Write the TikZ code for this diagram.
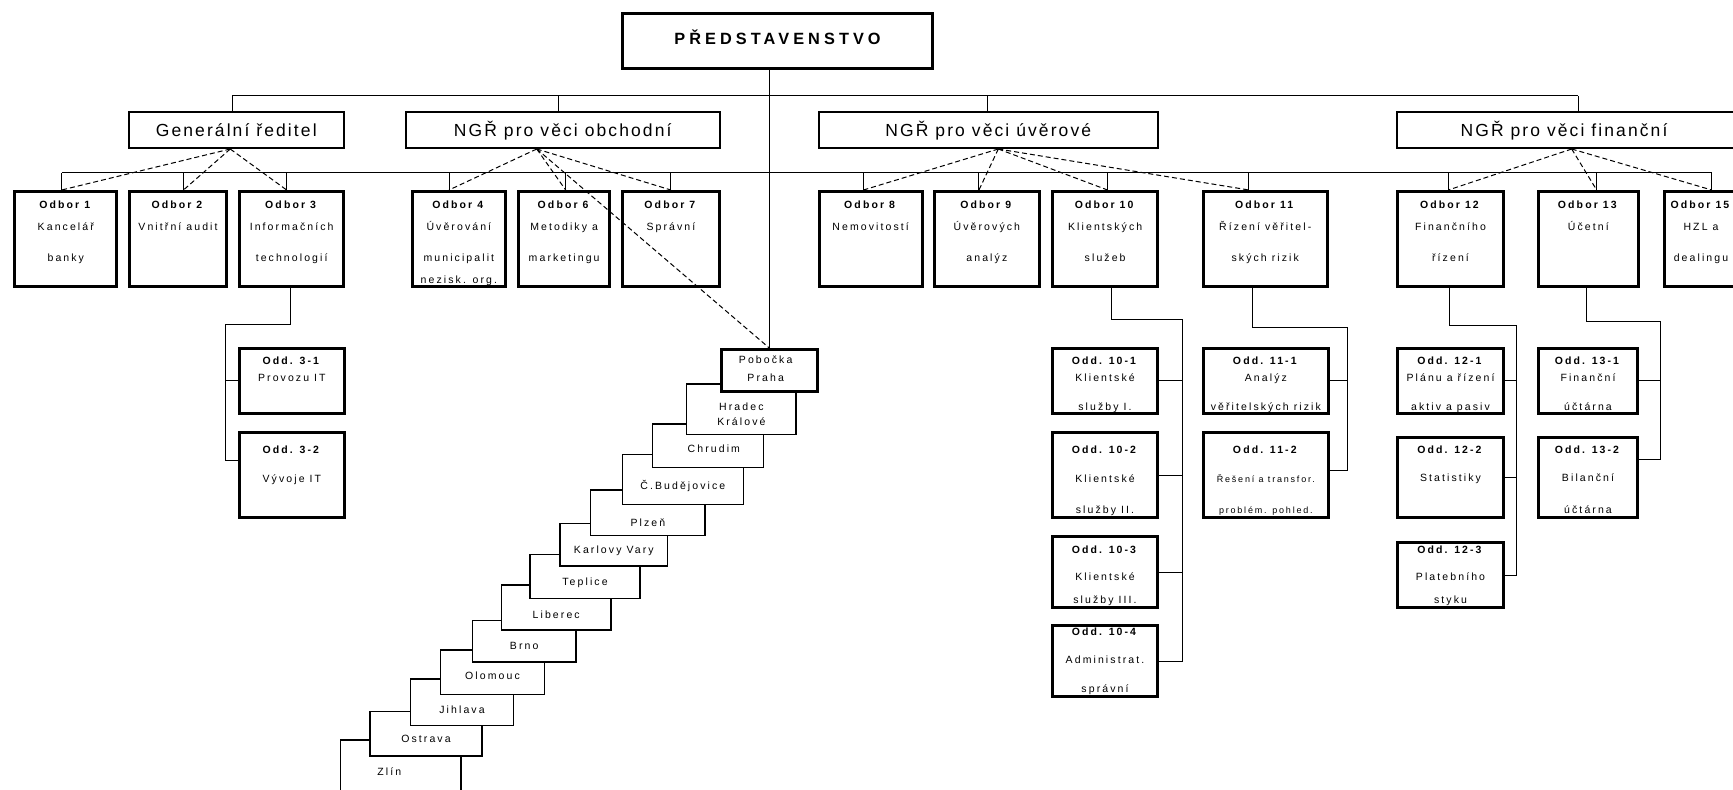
\documentclass[tikz,border=0pt]{standalone}
\usepackage{fontspec}
\setmainfont{Liberation Sans}
\newfontfamily\pismo[LetterSpace=20]{Liberation Sans}
\newfontfamily\pismoh[LetterSpace=12]{Liberation Sans}
\newfontfamily\pismot[LetterSpace=25]{Liberation Sans}
\begin{document}
\begin{tikzpicture}[x=1pt,y=-1pt,line width=1pt,ln/.style={anchor=base,yshift=-#1pt},every label/.style={inner sep=0,font=\pismo\fontsize{10.5}{12}\selectfont}]
\tikzstyle{hlava}=[draw,line width=3pt,inner sep=0,minimum width=310pt,minimum height=55.3pt]
\tikzstyle{vedeni}=[draw,line width=2pt,inner sep=0,minimum height=36.3pt]
\tikzstyle{odbor}=[draw,line width=3pt,inner sep=0,minimum height=95.3pt]
\tikzstyle{oddeleni}=[draw,line width=3pt,inner sep=0]
\tikzstyle{pobocka}=[draw,fill=white,line width=1.2pt,inner sep=0]
\tikzstyle{spoj}=[dash pattern=on 5pt off 3pt]
\tikzstyle{velke}=[font=\pismoh\fontsize{17.5}{20}\selectfont]
\tikzstyle{male}=[font=\pismo\fontsize{9}{10}\selectfont]
\useasboundingbox(0,0)rectangle(1733,790);
\clip(0,0)rectangle(1733,790);
\node[hlava,label={[ln=32.3,font=\pismot\bfseries\fontsize{16.3}{18}\selectfont]north:PŘEDSTAVENSTVO}](pred)at(777.5,40.85){};
\node[vedeni,minimum width=214.5pt,label={[ln=26,velke]north:Generální ředitel}](gen)at(236.25,129.85){};
\node[vedeni,minimum width=313.5pt,label={[ln=26,velke]north:NGŘ pro věci obchodní}](obch)at(562.75,129.85){};
\node[vedeni,minimum width=339.3pt,label={[ln=26,velke]north:NGŘ pro věci úvěrové}](uver)at(988.3,129.85){};
\node[vedeni,minimum width=360pt,label={[ln=26,velke,xshift=-12.7pt]north:NGŘ pro věci finanční}](fin)at(1576.7,129.85){};
\node[odbor,minimum width=102pt,label={[ln=18]north:\textbf{Odbor 1}},label={[ln=40.5]north:Kancelář},label={[ln=71.5]north:banky}](o1)at(65.8,239.15){};
\node[odbor,minimum width=96.4pt,label={[ln=18]north:\textbf{Odbor 2}},label={[ln=40.5]north:Vnitřní audit}](o2)at(178,239.15){};
\node[odbor,minimum width=103.7pt,label={[ln=18]north:\textbf{Odbor 3}},label={[ln=40.5]north:Informačních},label={[ln=71.5]north:technologií}](o3)at(291.65,239.15){};
\node[odbor,minimum width=92.7pt,label={[ln=18]north:\textbf{Odbor 4}},label={[ln=40.5]north:Úvěrování},label={[ln=71.5]north:municipalit},label={[ln=93]north:nezisk. org.}](o4)at(458.85,239.15){};
\node[odbor,minimum width=90.7pt,label={[ln=18]north:\textbf{Odbor 6}},label={[ln=40.5]north:Metodiky a},label={[ln=71.5]north:marketingu}](o6)at(564.15,239.15){};
\node[odbor,minimum width=97pt,label={[ln=18]north:\textbf{Odbor 7}},label={[ln=40.5]north:Správní}](o7)at(670.9,239.15){};
\node[odbor,minimum width=102.9pt,label={[ln=18]north:\textbf{Odbor 8}},label={[ln=40.5]north:Nemovitostí}](o8)at(870.65,239.15){};
\node[odbor,minimum width=105.3pt,label={[ln=18]north:\textbf{Odbor 9}},label={[ln=40.5]north:Úvěrových},label={[ln=71.5]north:analýz}](o9)at(986.85,239.15){};
\node[odbor,minimum width=104.5pt,label={[ln=18]north:\textbf{Odbor 10}},label={[ln=40.5]north:Klientských},label={[ln=71.5]north:služeb}](o10)at(1105.15,239.15){};
\node[odbor,minimum width=124.3pt,label={[ln=18]north:\textbf{Odbor 11}},label={[ln=40.5]north:Řízení věřitel-},label={[ln=71.5]north:ských rizik}](o11)at(1265.25,239.15){};
\node[odbor,minimum width=106pt,label={[ln=18]north:\textbf{Odbor 12}},label={[ln=40.5]north:Finančního},label={[ln=71.5]north:řízení}](o12)at(1450.5,239.15){};
\node[odbor,minimum width=100.3pt,label={[ln=18]north:\textbf{Odbor 13}},label={[ln=40.5]north:Účetní}](o13)at(1588.35,239.15){};
\node[odbor,minimum width=100pt,label={[ln=18,xshift=-13.8pt]north:\textbf{Odbor 15}},label={[ln=40.5,xshift=-13.8pt]north:HZL a},label={[ln=71.5,xshift=-13.8pt]north:dealingu}](o15)at(1714.8,239.15){};
\node[oddeleni,minimum width=105.3pt,minimum height=65.3pt,label={[ln=17.6]north:\textbf{Odd. 3-1}},label={[ln=35]north:Provozu IT}](d31)at(291.85,380.85){};
\node[oddeleni,minimum width=105.3pt,minimum height=85.6pt,label={[ln=22.6]north:\textbf{Odd. 3-2}},label={[ln=52]north:Vývoje IT}](d32)at(291.85,475){};
\node[oddeleni,minimum width=105pt,minimum height=65.3pt,label={[ln=17.6]north:\textbf{Odd. 10-1}},label={[ln=35]north:Klientské},label={[ln=63.3]north:služby I.}](d101)at(1105,380.85){};
\node[oddeleni,minimum width=105pt,minimum height=85.6pt,label={[ln=22.6]north:\textbf{Odd. 10-2}},label={[ln=52]north:Klientské},label={[ln=82.6]north:služby II.}](d102)at(1105,475){};
\node[oddeleni,minimum width=105pt,minimum height=71pt,label={[ln=18.3]north:\textbf{Odd. 10-3}},label={[ln=45]north:Klientské},label={[ln=68.3]north:služby III.}](d103)at(1105,572){};
\node[oddeleni,minimum width=105pt,minimum height=71pt,label={[ln=11.4]north:\textbf{Odd. 10-4}},label={[ln=39]north:Administrat.},label={[ln=68]north:správní}](d104)at(1105,661.3){};
\node[oddeleni,minimum width=125.3pt,minimum height=65.3pt,label={[ln=17.6]north:\textbf{Odd. 11-1}},label={[ln=35]north:Analýz},label={[ln=63.3]north:věřitelských rizik}](d111)at(1265.85,380.85){};
\node[oddeleni,minimum width=125.3pt,minimum height=85.6pt,label={[ln=22.6]north:\textbf{Odd. 11-2}},label={[ln=52,male]north:Řešení a transfor.},label={[ln=82.6,male]north:problém. pohled.}](d112)at(1265.85,475){};
\node[oddeleni,minimum width=106pt,minimum height=65.3pt,label={[ln=17.6]north:\textbf{Odd. 12-1}},label={[ln=35]north:Plánu a řízení},label={[ln=63.3]north:aktiv a pasiv}](d121)at(1450.5,380.85){};
\node[oddeleni,minimum width=106pt,minimum height=80.3pt,label={[ln=17.3]north:\textbf{Odd. 12-2}},label={[ln=45.7]north:Statistiky}](d122)at(1450.5,477.65){};
\node[oddeleni,minimum width=106pt,minimum height=65.6pt,label={[ln=12.6]north:\textbf{Odd. 12-3}},label={[ln=39.3]north:Platebního},label={[ln=62.6]north:styku}](d123)at(1450.5,575){};
\node[oddeleni,minimum width=99.6pt,minimum height=65.3pt,label={[ln=17.6]north:\textbf{Odd. 13-1}},label={[ln=35]north:Finanční},label={[ln=63.3]north:účtárna}](d131)at(1588,380.85){};
\node[oddeleni,minimum width=99.6pt,minimum height=80.3pt,label={[ln=17.3]north:\textbf{Odd. 13-2}},label={[ln=45.7]north:Bilanční},label={[ln=77.3]north:účtárna}](d132)at(1588,477.65){};
\node[pobocka,minimum width=120.2pt,minimum height=59.2pt,label={[ln=35.7,xshift=-11.5pt]north:Zlín}](zlin)at(400.85,769.65){};
\node[pobocka,minimum width=111.9pt,minimum height=44.5pt,label={[ln=32]north:Ostrava}](ostrava)at(426,733.7){};
\node[pobocka,minimum width=102.5pt,minimum height=46.2pt,label={[ln=35]north:Jihlava}](jihlava)at(462,702.15){};
\node[pobocka,minimum width=103.5pt,minimum height=44.2pt,label={[ln=30]north:Olomouc}](olomouc)at(492.5,672.15){};
\node[pobocka,minimum width=103.5pt,minimum height=41.2pt,label={[ln=29.3]north:Brno}](brno)at(524.2,641.35){};
\node[pobocka,minimum width=109.5pt,minimum height=44.9pt,label={[ln=34]north:Liberec}](liberec)at(556.2,607.5){};
\node[pobocka,minimum width=109.9pt,minimum height=43.8pt,label={[ln=31]north:Teplice}](teplice)at(585,576.65){};
\node[pobocka,minimum width=107.5pt,minimum height=42.5pt,label={[ln=30.6]north:Karlovy Vary}](karlovy)at(613.8,544.7){};
\node[pobocka,minimum width=114.2pt,minimum height=45.2pt,label={[ln=36.7]north:Plzeň}](plzen)at(647.85,512.65){};
\node[pobocka,minimum width=120.8pt,minimum height=49.5pt,label={[ln=35.3]north:Č.Budějovice}](budejovice)at(682.85,479.5){};
\node[pobocka,minimum width=110.8pt,minimum height=43.5pt,label={[ln=29.4,xshift=6pt]north:Chrudim}](chrudim)at(707.85,445.8){};
\node[pobocka,minimum width=109.2pt,minimum height=50.2pt,label={[ln=26.7]north:Hradec},label={[ln=41.7]north:Králové}](hradec)at(741.35,409.15){};
\node[pobocka,line width=3pt,minimum width=96.3pt,minimum height=42pt,label={[ln=15,xshift=-4pt]north:Pobočka},label={[ln=33.4,xshift=-4pt]north:Praha}](praha)at(769.65,370.8){};
\coordinate(sbernice)at(0,95.5);
\coordinate(sbernice2)at(0,172.5);
\draw([xshift=-4pt]gen.north|-sbernice)--([xshift=1.6pt]fin.north|-sbernice);
\foreach \n/\s in {gen/-4pt,obch/-4pt,uver/-0.6pt,fin/1.6pt}\draw([xshift=\s]\n.north)--([xshift=\s]\n.north|-sbernice);
\draw(praha.north)--(praha.north|-pred.south);
\draw([xshift=-4.1pt]o1.north|-sbernice2)--([xshift=-3.1pt]o15.north|-sbernice2);
\foreach \n/\s in {o1/-4.1pt,o2/5.5pt,o3/-5pt,o4/-9.85pt,o6/1.5pt,o7/0pt,o8/-7.2pt,o9/-7.9pt,o10/2.4pt,o11/-16.3pt,o12/-2.2pt,o13/8.3pt,o15/-3.1pt}\draw([xshift=\s]\n.north)--([xshift=\s]\n.north|-sbernice2);
\foreach \n/\s in {o1/-4.1pt,o2/5.5pt,o3/-5pt}\draw[spoj]([xshift=-6pt]gen.south)--([xshift=\s]\n.north);
\foreach \n/\s in {o4/-9.85pt,o6/1.5pt,o7/0pt}\draw[spoj]([xshift=-26pt]obch.south)--([xshift=\s]\n.north);
\draw[spoj]([xshift=-26pt]obch.south)--(praha.north);
\foreach \n/\s in {o8/-7.2pt,o9/-7.9pt,o10/2.4pt,o11/-16.3pt}\draw[spoj]([xshift=10pt]uver.south)--([xshift=\s]\n.north);
\foreach \n/\s in {o12/-2.2pt,o13/8.3pt,o15/-3.1pt}\draw[spoj]([xshift=-5pt]fin.south)--([xshift=\s]\n.north);
\coordinate(k3)at(225.7,324);
\draw([xshift=-1.65pt]o3.south)|-(k3)|-([yshift=15pt]d32.west);
\draw(k3|-d31.west)--(d31.west);
\coordinate(k10)at(1182.7,319);
\draw([xshift=5.85pt]o10.south)|-(k10)|-(d104.east);
\foreach \n in {d101,d102,d103}\draw(k10|-\n.east)--(\n.east);
\coordinate(k11)at(1347.3,327);
\draw([xshift=-13.25pt]o11.south)|-(k11)|-([yshift=4.3pt]d112.east);
\draw(k11|-d111.east)--(d111.east);
\coordinate(k12)at(1516.7,325);
\draw([xshift=-1.5pt]o12.south)|-(k12)|-(d123.east);
\foreach \n in {d121,d122}\draw(k12|-\n.east)--(\n.east);
\coordinate(k13)at(1660,321.7);
\draw([xshift=-2.35pt]o13.south)|-(k13)|-([yshift=17.7pt]d132.east);
\draw(k13|-d131.east)--(d131.east);
\end{tikzpicture}
\end{document}
